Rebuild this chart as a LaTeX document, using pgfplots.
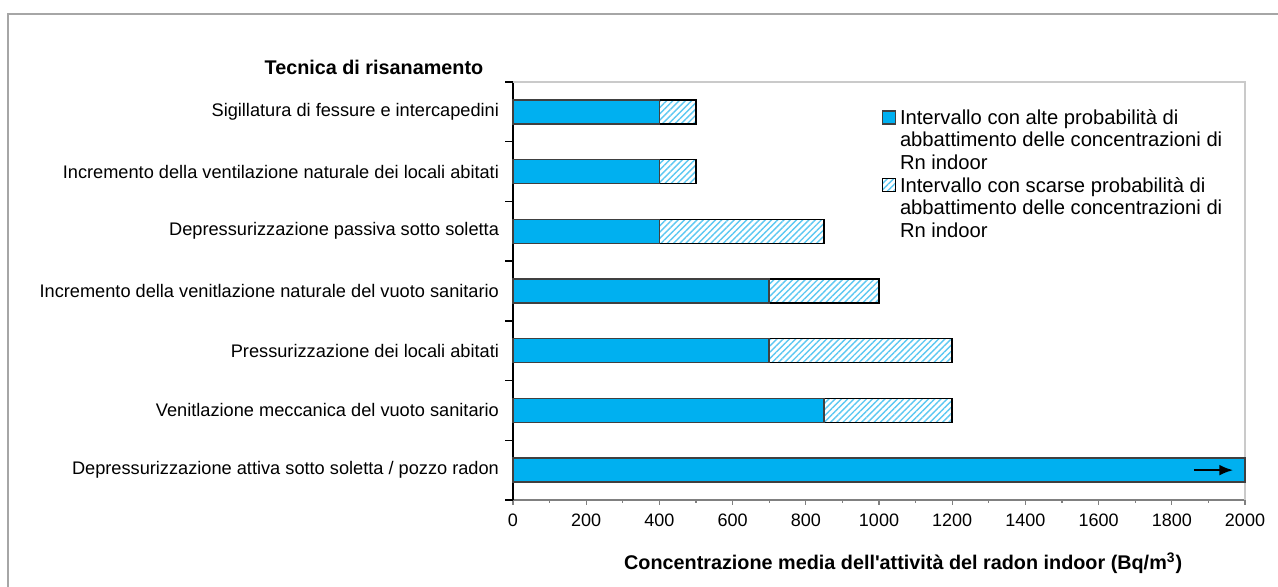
\documentclass[border=0pt]{standalone}
\usepackage{pgfplots}
\pgfplotsset{compat=1.18}
\usepackage{fontspec}
\setmainfont{Liberation Sans}
\usetikzlibrary{patterns.meta,arrows.meta}
\definecolor{barblue}{HTML}{00B0F0}
\definecolor{hatchblue}{HTML}{5CC8F2}
\definecolor{framegray}{HTML}{A6A6A6}
\begin{document}
\begin{tikzpicture}
\useasboundingbox (0,0) rectangle (639pt,293.5pt);
\begin{axis}[
  at={(256.5pt,43.5pt)}, anchor=south west,
  scale only axis, width=366pt, height=209pt,
  xbar stacked, bar width=12pt,
  xmin=0, xmax=2000, ymin=-0.5, ymax=6.5,
  axis lines=left,
  axis line style={-},
  x axis line style={draw=gray, line width=0.75pt},
  y axis line style={draw=black, line width=0.75pt},
  xtick={0,200,...,2000}, minor x tick num=1,
  tick align=outside,
  major tick length=2.5pt, minor tick length=1.5pt,
  x tick style={draw=gray, line width=0.6pt},
  ytick={0,...,6},
  yticklabels={Depressurizzazione attiva sotto soletta / pozzo radon,
    Venitlazione meccanica del vuoto sanitario,
    Pressurizzazione dei locali abitati,
    Incremento della venitlazione naturale del vuoto sanitario,
    Depressurizzazione passiva sotto soletta,
    Incremento della ventilazione naturale dei locali abitati,
    Sigillatura di fessure e intercapedini},
  major y tick style={draw=none},
  extra y ticks={-0.5,0.5,1.5,2.5,3.5,4.5,5.5,6.5},
  extra y tick labels={},
  extra y tick style={major tick length=4pt, major y tick style={draw=black, line width=0.75pt}},
  /pgf/number format/assume math mode=true,
  /pgf/number format/set thousands separator={},
  xticklabel style={font=\fontsize{9}{10}\selectfont, yshift=-1pt},
  yticklabel style={font=\fontsize{9.1}{10}\selectfont, xshift=-1pt},
  legend style={draw=none, fill=none, at={(rel axis cs:0.503,0.945)}, anchor=north west,
    font=\fontsize{10.1}{11.25}\selectfont, row sep=-1.5pt, inner sep=0pt,
    cells={anchor=west, align=left}},
  legend image code/.code={\draw[#1, line width=0.7pt] (0pt,8.5pt) rectangle (6.5pt,15pt);},
  clip=false,
]
\addplot[fill=barblue, draw=black!75, line width=0.75pt] coordinates {
  (2000,0) (850,1) (700,2) (700,3) (400,4) (400,5) (400,6)};
\addlegendentry{Intervallo con alte probabilità di\\abbattimento delle concentrazioni di\\Rn indoor}
\addplot[fill=white, postaction={pattern={Lines[angle=45,distance=2.2pt,line width=0.7pt]}, pattern color=hatchblue}, draw=black, line width=0.75pt] coordinates {
  (0,0) (350,1) (500,2) (300,3) (450,4) (100,5) (100,6)};
\addlegendentry{Intervallo con scarse probabilità di\\abbattimento delle concentrazioni di\\Rn indoor}
\draw[framegray!60, line width=0.75pt] (rel axis cs:0,1) -- (rel axis cs:1,1) -- (rel axis cs:1,0);
\node[anchor=east, font=\bfseries\fontsize{9.9}{10}\selectfont] at (rel axis cs:-0.031,1.034) {Tecnica di risanamento};
\node[anchor=center, font=\bfseries\fontsize{9.9}{10}\selectfont] at (rel axis cs:0.533,-0.151) {Concentrazione media dell\textquotesingle attività del radon indoor (Bq/m\textsuperscript{3})};
\end{axis}
\begin{axis}[
  at={(256.5pt,43.5pt)}, anchor=south west,
  scale only axis, width=366pt, height=209pt,
  xmin=0, xmax=2000, ymin=-0.5, ymax=6.5,
  hide axis, clip=false,
]
\addplot[-{Latex[length=7pt,width=5.5pt]}, line width=1.2pt, black, no marks] coordinates {(1860,0) (1968,0)};
\end{axis}
\draw[framegray, line width=0.75pt] (4pt,-2pt) -- (4pt,286.5pt) -- (645pt,286.5pt);
\end{tikzpicture}
\end{document}
